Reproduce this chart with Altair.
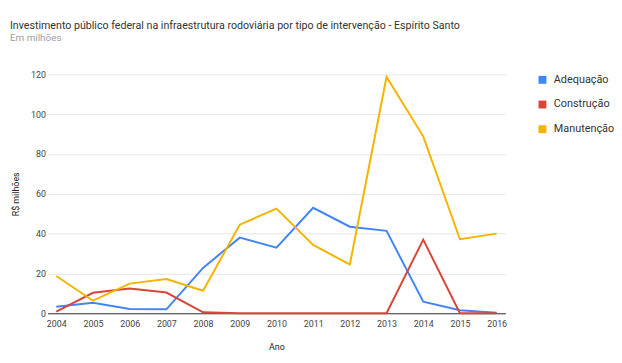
import altair as alt
import pandas as pd

anos = list(range(2004, 2017))
adequacao = [3.3, 5.3, 2.1, 2.0, 22.8, 38.0, 33.0, 53.0, 43.5, 41.4, 5.8, 1.5, 0.3]
construcao = [0.8, 10.3, 12.4, 10.4, 0.5, 0.0, 0.0, 0.0, 0.0, 0.0, 37.0, 0.0, 0.0]
manutencao = [18.7, 6.3, 14.9, 17.2, 11.3, 44.5, 52.6, 34.3, 24.5, 118.7, 88.9, 37.2, 40.0]

series = ["Adequação", "Construção", "Manutenção"]
cores = ["#4285F4", "#DB4437", "#F4B400"]

rows = []
for nome, vals in zip(series, [adequacao, construcao, manutencao]):
    for a, v in zip(anos, vals):
        rows.append({"Ano": a, "Valor": v, "Tipo": nome})
df = pd.DataFrame(rows)

font = "Roboto"

chart = alt.Chart(df).mark_line(strokeWidth=2).encode(
    x=alt.X("Ano:Q",
            scale=alt.Scale(domain=[2003.76, 2016.24], nice=False, zero=False),
            axis=alt.Axis(values=anos, format="d", grid=False, ticks=False,
                          domainColor="#333333", domainWidth=1,
                          labelFont=font, labelFontSize=9, labelColor="#444444",
                          labelPadding=6, labelFlush=False,
                          title="Ano", titleFont=font, titleFontSize=9,
                          titleFontWeight="normal", titleColor="#222222",
                          titlePadding=15)),
    y=alt.Y("Valor:Q",
            scale=alt.Scale(domain=[0, 120], nice=False),
            axis=alt.Axis(values=[0, 20, 40, 60, 80, 100, 120], domain=False,
                          ticks=False, gridColor="#e6e6e6",
                          labelFont=font, labelFontSize=9, labelColor="#444444",
                          labelPadding=2,
                          title="R$ milhões", titleFont=font, titleFontSize=9,
                          titleFontWeight="normal", titleColor="#222222",
                          titlePadding=10)),
    color=alt.Color("Tipo:N",
                    scale=alt.Scale(domain=series, range=cores),
                    legend=alt.Legend(title=None, orient="none",
                                      legendX=496, legendY=0,
                                      symbolType="square", symbolSize=16,
                                      symbolStrokeWidth=4,
                                      labelFont=font, labelFontSize=11,
                                      labelColor="#333333", labelOffset=6,
                                      rowPadding=4)),
).properties(
    width=464,
    height=242,
    autosize="none",
    padding={"left": 40, "top": 65, "right": 110, "bottom": 40},
    title=alt.TitleParams(
        text="Investimento público federal na infraestrutura rodoviária por tipo de intervenção - Espírito Santo",
        subtitle="Em milhões",
        anchor="start", frame="group", dx=-38, offset=28,
        font=font, fontSize=10.8, fontWeight="normal", color="#333333",
        subtitleFont=font, subtitleFontSize=10, subtitleColor="#9e9e9e",
        subtitlePadding=2),
).configure_view(stroke=None)

chart.save("out.html", embed_options={"renderer": "svg", "actions": False})
